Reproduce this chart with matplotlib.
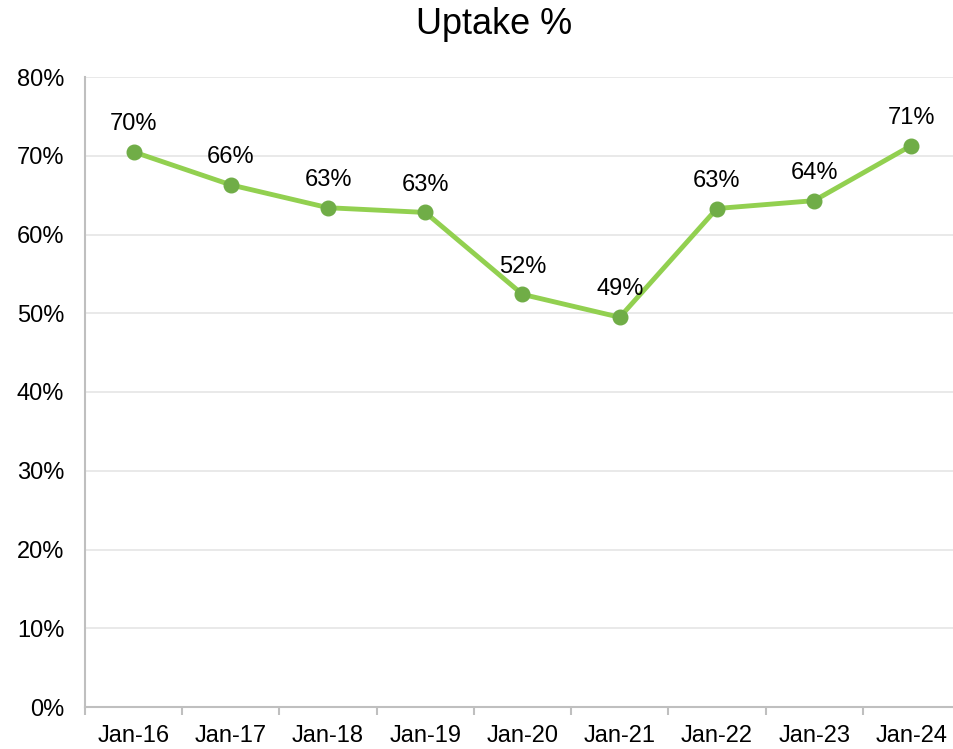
import matplotlib
matplotlib.use('Agg')
import matplotlib.pyplot as plt
import numpy as np
from matplotlib.ticker import FixedLocator, PercentFormatter

plt.rcParams['font.family'] = ['Liberation Sans', 'DejaVu Sans']

months = ['Jan-16', 'Jan-17', 'Jan-18', 'Jan-19', 'Jan-20',
          'Jan-21', 'Jan-22', 'Jan-23', 'Jan-24']
uptake = [70.49, 66.3, 63.4, 62.8, 52.4, 49.49, 63.3, 64.3, 71.3]

fig = plt.figure(figsize=(9.54, 7.49), dpi=100)
ax = fig.add_axes([85/954, 1-707/749, 875/954, 630/749])

x = np.arange(len(months))
ax.plot(x, uptake, color='#92D050', linewidth=3.5, zorder=3)
ax.plot(x, uptake, 'o', color='#70AD47', markersize=10.5, zorder=4)

for xi, v in zip(x, uptake):
    ax.annotate('%.0f%%' % v, (xi, v), xytext=(0, 20), textcoords='offset points',
                ha='center', va='center', fontsize=17, color='#000000', zorder=5)

ax.set_xlim(-0.5, len(months) - 0.5)
ax.set_ylim(0, 80)
ax.set_yticks(np.arange(0, 81, 10))
ax.yaxis.set_major_formatter(PercentFormatter(decimals=0))
ax.set_xticks(x)
ax.set_xticklabels(months)
ax.xaxis.set_minor_locator(FixedLocator(np.arange(-0.5, len(months), 1)))

ax.grid(axis='y', color='#E5E5E5', linewidth=1.2, zorder=0)
ax.set_axisbelow(True)
for s in ['top', 'right']:
    ax.spines[s].set_visible(False)
for s in ['left', 'bottom']:
    ax.spines[s].set_color('#BFBFBF')
    ax.spines[s].set_linewidth(1.5)

ax.tick_params(axis='y', length=0, labelsize=17, pad=15)
ax.tick_params(axis='x', which='major', length=0, labelsize=17, pad=13)
ax.tick_params(axis='x', which='minor', length=6, width=1.5, color='#BFBFBF')

fig.text(494/954, 1-24/749, 'Uptake %', ha='center', va='center', fontsize=26)

fig.savefig('out.png', dpi=100)
